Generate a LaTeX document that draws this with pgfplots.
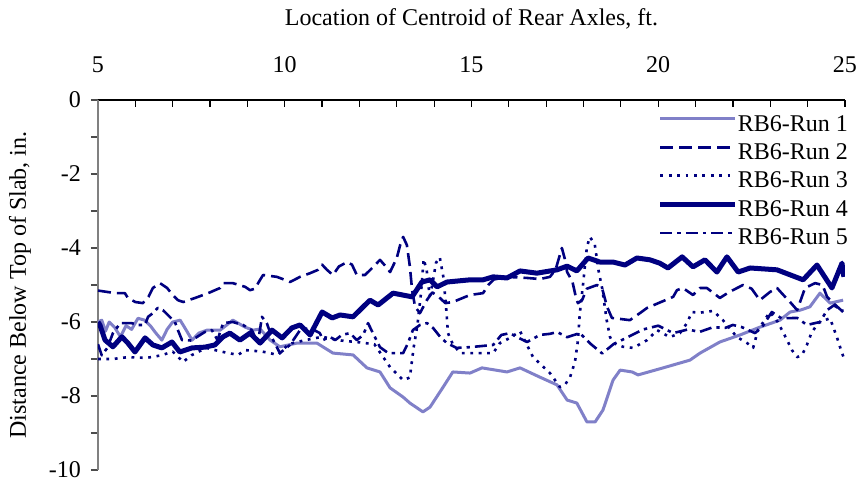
\documentclass[border=0pt]{standalone}
\usepackage{fontspec}
\setmainfont{Liberation Serif}
\usepackage{pgfplots}
\pgfplotsset{compat=1.18}
\definecolor{navy}{RGB}{0,0,128}
\definecolor{lilac}{RGB}{128,128,200}

\begin{document}
\begin{tikzpicture}[x=1pt,y=1pt]
\useasboundingbox (-49,-6.5) rectangle (380,235);
\begin{axis}[
    at={(0,0)}, anchor=south west,
    width=373.5pt, height=185pt, scale only axis,
    xmin=5, xmax=25, ymin=-10, ymax=0,
    axis x line*=top, axis y line*=left,
    tick align=inside,
    xtick={5,10,15,20,25}, xticklabels={5,10,15,20,25},
    minor x tick num=4,
    ytick={-10,-8,-6,-4,-2,0}, yticklabels={-10,-8,-6,-4,-2,0},
    minor y tick num=1,
    major tick length=3.5pt, minor tick length=3.5pt,
    x tick style={black, line width=0.6pt},
    y tick style={xshift=-3.5pt, gray!60!black, line width=0.6pt},
    x axis line style={black, line width=0.75pt},
    y axis line style={gray, line width=1pt},
    tick label style={font=\fontsize{12}{14}\selectfont},
    xticklabel style={anchor=base, yshift=13.8pt},
    yticklabel style={anchor=east, xshift=-5pt},
    xlabel={Location of Centroid of Rear Axles, ft.},
    every axis x label/.style={at={(rel axis cs:0.5,1)}, anchor=base, yshift=37pt, font=\fontsize{12}{14}\selectfont},
    ylabel={Distance Below Top of Slab, in.},
    every axis y label/.style={at={(rel axis cs:0,0.5)}, xshift=-39pt, rotate=90, anchor=center, font=\fontsize{12}{14}\selectfont},
    legend cell align=left,
    legend style={at={(rel axis cs:1,1)}, anchor=north east, draw=none, fill=none,
        font=\fontsize{12}{14}\selectfont, inner sep=0pt, outer sep=0pt,
        yshift=-6pt, xshift=1.5pt, row sep=0.45pt,
        nodes={inner sep=0pt, text height=9.5pt, text depth=4.3pt},
        /tikz/every even column/.append style={column sep=2.5pt}},
    legend image code/.code={\draw[#1] (0pt,3.5pt) -- (37.5pt,3.5pt);},
    line join=round
]

% RB6-Run 1
\addplot[lilac, line width=1.5pt] coordinates {
(5.0,-6.0) (5.1,-5.95) (5.2,-6.25) (5.3,-6.0) (5.45,-6.15) (5.6,-6.4) (5.75,-6.1) (5.9,-6.2)
(6.07,-5.9) (6.25,-5.95) (6.4,-6.1) (6.55,-6.3) (6.71,-6.49) (6.85,-6.2) (7.0,-6.0) (7.2,-5.95)
(7.35,-6.2) (7.52,-6.49) (7.7,-6.3) (7.92,-6.22) (8.27,-6.22) (8.61,-5.95) (8.94,-6.14) (9.15,-6.22)
(9.34,-6.19) (9.61,-6.49) (9.87,-6.67) (10.33,-6.57) (10.86,-6.57) (11.29,-6.84) (11.83,-6.89)
(12.2,-7.24) (12.55,-7.35) (12.82,-7.78) (13.17,-8.03) (13.35,-8.19) (13.7,-8.43) (13.89,-8.30)
(14.24,-7.76) (14.5,-7.35) (14.96,-7.38) (15.28,-7.24) (15.95,-7.35) (16.3,-7.24) (16.83,-7.49)
(17.29,-7.70) (17.56,-8.11) (17.82,-8.19) (18.09,-8.70) (18.31,-8.70) (18.52,-8.38) (18.79,-7.57)
(18.98,-7.30) (19.30,-7.35) (19.46,-7.43) (20.13,-7.24) (20.85,-7.03) (21.12,-6.84) (21.65,-6.54)
(22.19,-6.35) (22.72,-6.14) (23.26,-5.95) (23.53,-5.73) (23.80,-5.68) (24.06,-5.59) (24.33,-5.22)
(24.60,-5.49) (24.95,-5.41)
};
\addlegendentry{RB6-Run 1}

% RB6-Run 2
\addplot[navy, line width=1.3pt, dash pattern=on 6.5pt off 3pt] coordinates {
(5.0,-5.15) (5.46,-5.22) (5.72,-5.22) (5.8,-5.35) (6.0,-5.46) (6.2,-5.49) (6.35,-5.32) (6.47,-5.08)
(6.66,-4.95) (6.85,-5.08) (7.0,-5.27) (7.14,-5.41) (7.28,-5.46) (7.6,-5.35) (7.95,-5.22) (8.27,-5.08)
(8.35,-4.95) (8.61,-4.95) (8.94,-5.05) (9.07,-5.14) (9.2,-5.1) (9.34,-4.86) (9.42,-4.73) (9.79,-4.78)
(10.0,-4.86) (10.14,-4.92) (10.41,-4.78) (10.68,-4.68) (10.89,-4.59) (11.0,-4.45) (11.13,-4.59)
(11.29,-4.73) (11.45,-4.5) (11.67,-4.38) (11.8,-4.45) (11.93,-4.73) (12.15,-4.73) (12.34,-4.54)
(12.55,-4.32) (12.74,-4.54) (12.82,-4.65) (13.0,-4.27) (13.09,-3.92) (13.17,-3.70) (13.27,-3.92)
(13.35,-4.5) (13.41,-5.14) (13.49,-5.59) (13.62,-5.76) (13.81,-5.4) (13.95,-5.2) (14.1,-5.3)
(14.3,-5.49) (14.5,-5.46) (14.96,-5.27) (15.31,-5.22) (15.45,-5.0) (15.6,-4.85) (15.95,-4.78)
(16.5,-4.81) (16.83,-4.84) (17.1,-4.78) (17.25,-4.59) (17.42,-4.0) (17.5,-4.3) (17.56,-4.65)
(17.7,-4.9) (17.8,-5.35) (17.85,-5.49) (17.96,-5.41) (18.09,-5.1) (18.36,-5.0) (18.5,-5.1)
(18.63,-5.59) (18.76,-5.89) (19.24,-5.95) (19.51,-5.76) (19.70,-5.62) (20.4,-5.32) (20.5,-5.14)
(20.66,-5.08) (20.93,-5.27) (21.12,-5.08) (21.3,-5.08) (21.65,-5.35) (21.9,-5.19) (22.27,-5.0)
(22.5,-5.1) (22.72,-5.41) (22.99,-5.19) (23.18,-5.08) (23.35,-5.27) (23.53,-5.46) (23.72,-5.68)
(23.93,-5.08) (24.2,-4.95) (24.4,-5.0) (24.52,-5.32) (24.7,-5.5) (24.95,-5.73)
};
\addlegendentry{RB6-Run 2}

% RB6-Run 3
\addplot[navy, line width=1.3pt, dash pattern=on 1.4pt off 2.8pt] coordinates {
(5.0,-7.0) (5.4,-7.0) (5.8,-6.95) (6.3,-6.97) (6.7,-6.9) (7.0,-6.8) (7.28,-7.08) (7.5,-6.9)
(7.9,-6.7) (8.3,-6.8) (8.75,-6.89) (8.94,-6.76) (9.4,-6.8) (9.82,-6.89) (10.1,-6.6) (10.5,-6.5)
(11.0,-6.4) (11.5,-6.5) (12.0,-6.55) (12.4,-6.6) (12.82,-7.22) (13.17,-7.57) (13.35,-7.5)
(13.45,-6.7) (13.55,-6.1) (13.65,-5.2) (13.72,-4.3) (13.8,-4.6) (13.88,-5.3) (13.95,-5.0)
(14.05,-4.4) (14.15,-4.25) (14.25,-4.8) (14.32,-5.6) (14.37,-6.3) (14.5,-6.6) (14.7,-6.84)
(15.15,-6.84) (15.58,-6.84) (15.76,-6.57) (16.03,-6.43) (16.3,-6.25) (16.65,-6.95) (17.1,-7.38)
(17.37,-7.76) (17.5,-7.7) (17.64,-7.49) (17.77,-7.08) (17.85,-6.5) (17.9,-5.76) (17.98,-5.05)
(18.09,-3.97) (18.17,-3.70) (18.3,-3.9) (18.4,-4.6) (18.5,-5.1) (18.62,-5.95) (18.71,-6.41)
(18.79,-6.57) (19.06,-6.67) (19.33,-6.70) (19.70,-6.49) (19.97,-6.22) (20.31,-6.41) (20.58,-6.30)
(20.77,-6.03) (20.9,-5.73) (21.1,-5.75) (21.47,-5.7) (21.73,-5.95) (22.1,-6.4) (22.38,-6.57)
(22.54,-6.7) (22.67,-6.22) (22.99,-5.73) (23.2,-6.0) (23.45,-6.49) (23.58,-6.76) (23.72,-6.95)
(23.85,-6.89) (23.98,-6.62) (24.1,-6.3) (24.28,-6.03) (24.46,-5.95) (24.6,-5.9) (24.78,-6.4)
(24.92,-6.84) (24.97,-6.97)
};
\addlegendentry{RB6-Run 3}

% RB6-Run 4
\addplot[navy, line width=2.5pt] coordinates {
(5.0,-6.0) (5.05,-6.08) (5.19,-6.49) (5.40,-6.67) (5.64,-6.40) (5.80,-6.57) (5.99,-6.81) (6.26,-6.43)
(6.47,-6.62) (6.71,-6.70) (6.98,-6.54) (7.19,-6.81) (7.52,-6.70) (7.86,-6.68) (8.13,-6.62) (8.35,-6.40)
(8.53,-6.30) (8.80,-6.49) (9.07,-6.30) (9.34,-6.57) (9.66,-6.22) (9.93,-6.43) (10.19,-6.16)
(10.41,-6.08) (10.68,-6.35) (11.0,-5.73) (11.27,-5.89) (11.48,-5.81) (11.83,-5.86) (12.28,-5.41)
(12.50,-5.54) (12.90,-5.22) (13.41,-5.32) (13.67,-4.92) (13.89,-4.86) (14.08,-5.05) (14.34,-4.92)
(14.96,-4.86) (15.31,-4.86) (15.58,-4.78) (15.95,-4.81) (16.30,-4.62) (16.75,-4.68) (17.29,-4.59)
(17.56,-4.49) (17.82,-4.62) (18.12,-4.27) (18.44,-4.38) (18.79,-4.38) (19.11,-4.46) (19.43,-4.27)
(19.78,-4.32) (20.04,-4.41) (20.26,-4.54) (20.64,-4.24) (20.93,-4.51) (21.25,-4.32) (21.57,-4.65)
(21.84,-4.24) (22.14,-4.65) (22.46,-4.54) (23.18,-4.59) (23.88,-4.86) (24.25,-4.46) (24.65,-5.08)
(24.92,-4.41) (24.97,-4.78)
};
\addlegendentry{RB6-Run 4}

% RB6-Run 5
\addplot[navy, line width=1.3pt, dash pattern=on 6pt off 2.5pt on 1.7pt off 2.5pt] coordinates {
(5.0,-6.6) (5.1,-6.9) (5.25,-6.7) (5.4,-6.3) (5.6,-6.03) (5.9,-6.03) (6.07,-6.08) (6.26,-6.08)
(6.34,-5.86) (6.47,-5.76) (6.6,-5.62) (6.74,-5.68) (6.87,-5.81) (7.06,-6.0) (7.14,-6.22) (7.25,-6.49)
(7.5,-6.5) (7.86,-6.27) (8.05,-6.22) (8.2,-6.49) (8.35,-6.03) (8.61,-6.0) (8.88,-6.08) (9.12,-6.22)
(9.28,-6.57) (9.39,-5.86) (9.52,-6.03) (9.66,-6.43) (9.87,-6.84) (10.14,-6.62) (10.41,-6.22)
(10.68,-6.16) (10.94,-6.3) (11.02,-6.49) (11.21,-6.4) (11.35,-6.49) (11.53,-6.35) (11.75,-6.3)
(11.93,-6.49) (12.1,-6.35) (12.23,-6.03) (12.36,-6.3) (12.55,-6.68) (12.77,-6.84) (13.17,-6.84)
(13.3,-6.57) (13.43,-6.22) (13.62,-6.08) (13.81,-6.03) (13.97,-6.16) (14.16,-6.4) (14.34,-6.57)
(14.6,-6.7) (14.96,-6.68) (15.58,-6.62) (15.8,-6.35) (16.03,-6.30) (16.2,-6.4) (16.49,-6.54)
(16.83,-6.35) (17.1,-6.32) (17.29,-6.27) (17.56,-6.41) (17.9,-6.3) (18.2,-6.6) (18.5,-6.85)
(18.8,-6.6) (19.2,-6.4) (19.6,-6.2) (20.0,-6.1) (20.4,-6.3) (20.8,-6.2) (21.1,-6.27) (21.47,-6.14)
(21.79,-6.16) (22.0,-6.08) (22.24,-6.14) (22.59,-6.3) (22.78,-6.14) (23.04,-5.73) (23.3,-5.9)
(23.72,-5.89) (23.98,-6.08) (24.33,-6.0) (24.52,-5.68) (24.7,-5.55) (24.95,-5.7)
};
\addlegendentry{RB6-Run 5}

\end{axis}
\end{tikzpicture}
\end{document}
